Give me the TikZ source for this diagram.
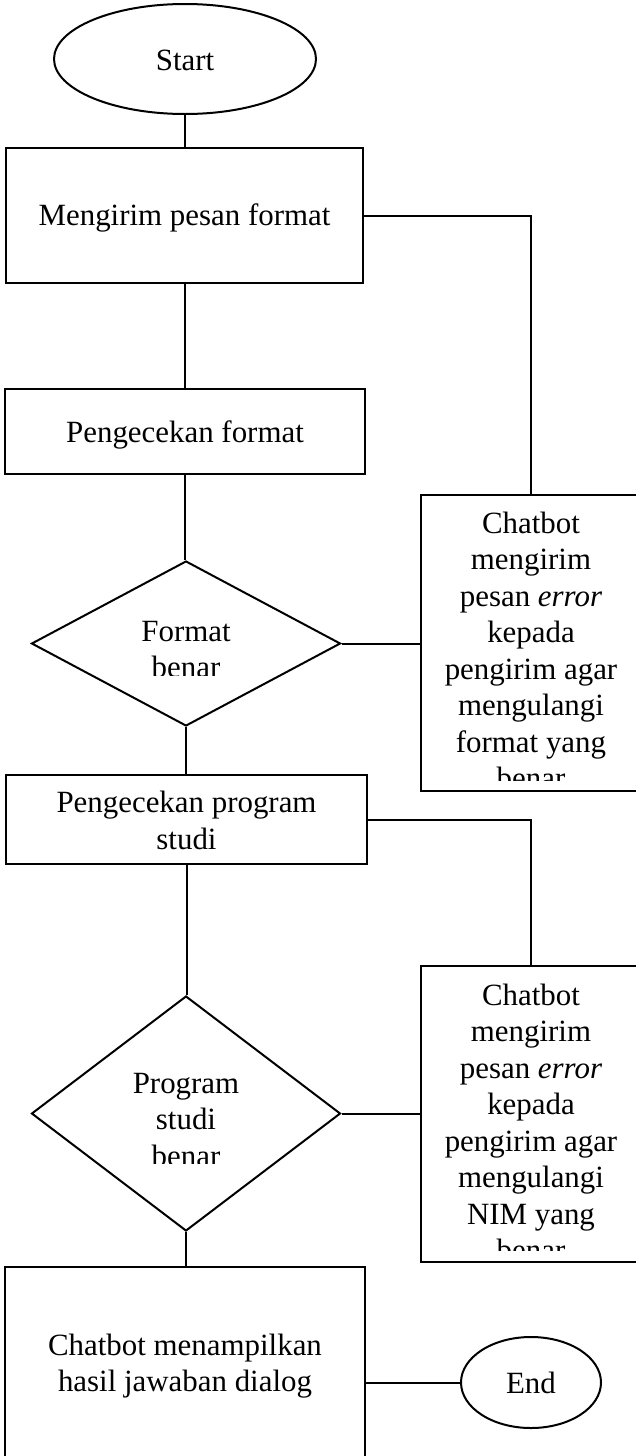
\documentclass[tikz,border=0pt]{standalone}
\usepackage{fontspec}
\setmainfont{Liberation Serif}
\usetikzlibrary{shapes.geometric}
\newcommand\mlines[1]{\begin{tabular}[t]{@{}c@{}}#1\end{tabular}}
\begin{document}
\begin{tikzpicture}[x=1pt,y=-1pt,
  shp/.style={draw=black, line width=2pt, inner sep=0pt},
  boxn/.style={shp, rectangle},
  term/.style={shp, ellipse},
  dec/.style={shp, diamond},
  lbl/.style={inner sep=0pt, anchor=base, font=\fontsize{30.9}{36.5}\selectfont},
  conn/.style={line width=2pt}]
\useasboundingbox (0,0) rectangle (636,1456);
% shapes
\node[term, minimum width=262pt, minimum height=110pt] (start) at (185,59) {};
\node[boxn, minimum width=357pt, minimum height=135pt] (box1) at (184.5,215.5) {};
\node[boxn, minimum width=360pt, minimum height=85pt] (box2) at (185,431.5) {};
\node[dec, minimum width=309pt, minimum height=165pt] (d1) at (186,643.5) {};
\node[boxn, minimum width=220pt, minimum height=296pt] (err1) at (531,643) {};
\node[boxn, minimum width=361pt, minimum height=89pt] (box3) at (186.5,819.5) {};
\node[dec, minimum width=309pt, minimum height=235pt] (d2) at (186,1113.5) {};
\node[boxn, minimum width=220pt, minimum height=296pt] (err2) at (531,1114) {};
\node[boxn, minimum width=360pt, minimum height=203pt] (box4) at (185,1368.5) {};
\node[term, minimum width=140pt, minimum height=91pt] (end) at (531,1382.5) {};
% texts
\node[lbl] (tstart) at (185,70) {Start};
\node[lbl] (tbox1) at (184.5,225) {Mengirim pesan format};
\node[lbl] (tbox2) at (185,442) {Pengecekan format};
\begin{scope}
  \clip (32,561) rectangle (341,675);
  \node[lbl] (td1) at (186,641) {\mlines{Format\\benar}};
\end{scope}
\begin{scope}
  \clip (421,495) rectangle (641,780);
  \node[lbl] (terr1) at (531,533) {\mlines{Chatbot\\mengirim\\pesan \textit{error}\\kepada\\pengirim agar\\mengulangi\\format yang\\benar}};
\end{scope}
\node[lbl] (tbox3) at (186.5,812.5) {\mlines{Pengecekan program\\studi}};
\begin{scope}
  \clip (32,996) rectangle (341,1163);
  \node[lbl] (td2) at (186,1093) {\mlines{Program\\studi\\benar}};
\end{scope}
\begin{scope}
  \clip (421,966) rectangle (641,1250);
  \node[lbl] (terr2) at (531,1005) {\mlines{Chatbot\\mengirim\\pesan \textit{error}\\kepada\\pengirim agar\\mengulangi\\NIM yang\\benar}};
\end{scope}
\node[lbl] (tbox4) at (185,1355) {\mlines{Chatbot menampilkan\\hasil jawaban dialog}};
\node[lbl] (tend) at (531,1393) {End};
% connectors
\draw[conn] (start.south) -- (start.south |- box1.north);
\draw[conn] (box1.south) -- (box1.south |- box2.north);
\draw[conn] (box2.south) -- (box2.south |- d1.north);
\draw[conn] (d1.south) -- (d1.south |- box3.north);
\draw[conn] (box3.south) -- (box3.south |- d2.north);
\draw[conn] (d2.south) -- (d2.south |- box4.north);
\draw[conn] (box1.east) -| (err1.north);
\draw[conn] (d1.east) -- (d1.east -| err1.west);
\draw[conn] (box3.east) -| (err2.north);
\draw[conn] (d2.east) -- (d2.east -| err2.west);
\draw[conn] (end.west -| box4.east) -- (end.west);
\end{tikzpicture}
\end{document}
